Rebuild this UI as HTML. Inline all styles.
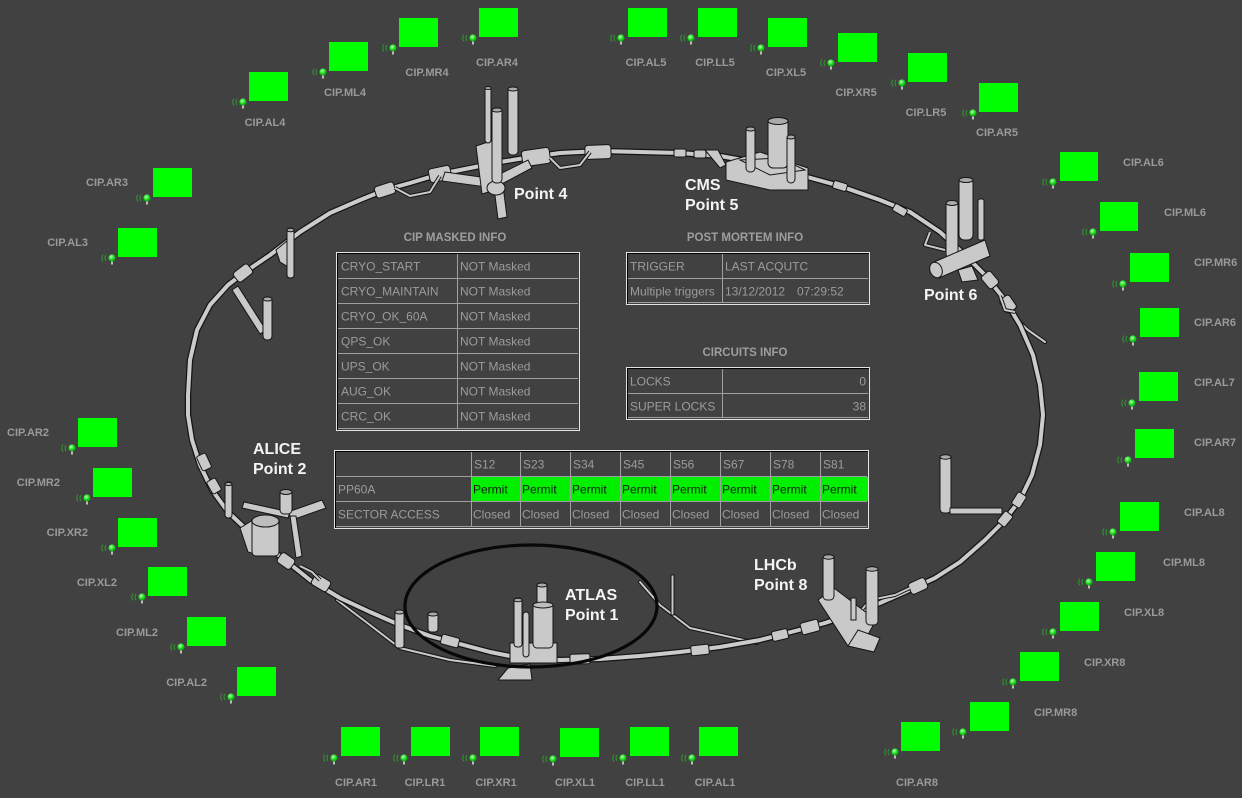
<!DOCTYPE html>
<html><head><meta charset="utf-8"><style>
html,body{margin:0;padding:0;background:#414141;width:1242px;height:798px;overflow:hidden}
svg{display:block;font-family:"Liberation Sans",Arial,sans-serif}
.lb{font-size:11px;font-weight:bold;fill:#9a9a9a}
.tt{font-size:11.5px;font-weight:bold;fill:#9e9e9e}
.tx{font-size:12px;fill:#9c9c9c}
.pm{font-size:12px;fill:#1a1a1a}
.pt{font-size:16px;font-weight:bold;fill:#f4f4f4}
.st{fill:#c9c9c9;stroke:#151515;stroke-width:1}
.gl{stroke:#a0a0a0;stroke-width:1}
</style></head><body>
<svg width="1242" height="798" viewBox="0 0 1242 798" xmlns="http://www.w3.org/2000/svg">
<defs>
<radialGradient id="gb" cx="0.4" cy="0.35" r="0.7"><stop offset="0" stop-color="#b8ffb8"/><stop offset="0.5" stop-color="#22e022"/><stop offset="1" stop-color="#0a8a0a"/></radialGradient>
<g id="ic"><path d="M-6,-3 q-2,3 0,6 M-9,-3.5 q-2.5,3.5 0,7" stroke="#2f9a2f" stroke-width="1" fill="none"/><rect x="-0.8" y="2" width="1.6" height="4.5" fill="#dcdcdc"/><circle r="3.6" fill="url(#gb)"/></g>
</defs>

<!-- secondary lines -->
<g fill="none" stroke-linejoin="round" stroke-linecap="round">
<polyline points="337,600 370,625 400,648 450,660 495,666" stroke="#151515" stroke-width="4"/>
<polyline points="337,600 370,625 400,648 450,660 495,666" stroke="#c9c9c9" stroke-width="2"/>
<polyline points="640,582 660,605 690,628 757,643" stroke="#151515" stroke-width="4"/>
<polyline points="640,582 660,605 690,628 757,643" stroke="#c9c9c9" stroke-width="2"/>
<polyline points="1012,315 1028,330 1045,342" stroke="#151515" stroke-width="4"/>
<polyline points="1012,315 1028,330 1045,342" stroke="#c9c9c9" stroke-width="2"/>
</g>

<!-- ring -->
<g fill="none" stroke-linejoin="round">
<polygon points="188,395 190,360 197,330 210,305 228,285 245,272 270,255 300,232 330,213 360,200 385,190 410,183 440,174 470,168 500,162 525,158 560,153 600,151 640,152 680,153 720,156 760,163 800,175 840,186 880,200 910,212 940,232 965,255 985,275 1005,300 1020,325 1033,355 1040,385 1043,415 1040,445 1032,475 1020,500 1003,522 985,540 960,562 935,578 905,592 880,603 855,613 825,623 795,631 760,640 720,647 680,652 640,656 600,659 560,660 520,658 490,652 460,644 430,636 400,625 370,612 340,598 310,580 285,560 265,545 245,528 228,512 212,490 200,465 192,440 188,415" stroke="#151515" stroke-width="6.5"/>
<polygon points="188,395 190,360 197,330 210,305 228,285 245,272 270,255 300,232 330,213 360,200 385,190 410,183 440,174 470,168 500,162 525,158 560,153 600,151 640,152 680,153 720,156 760,163 800,175 840,186 880,200 910,212 940,232 965,255 985,275 1005,300 1020,325 1033,355 1040,385 1043,415 1040,445 1032,475 1020,500 1003,522 985,540 960,562 935,578 905,592 880,603 855,613 825,623 795,631 760,640 720,647 680,652 640,656 600,659 560,660 520,658 490,652 460,644 430,636 400,625 370,612 340,598 310,580 285,560 265,545 245,528 228,512 212,490 200,465 192,440 188,415" stroke="#cbcbcb" stroke-width="4"/>
</g>

<!-- ring segments -->
<g class="st">
<rect x="-13" y="-7" width="26" height="14" rx="3" transform="translate(598,152) rotate(-2)"/>
<rect x="-14" y="-8" width="28" height="16" rx="3" transform="translate(536,157) rotate(-8)"/>
<rect x="-11" y="-7" width="22" height="14" rx="3" transform="translate(440,174) rotate(-12)"/>
<rect x="-10" y="-6" width="20" height="12" rx="3" transform="translate(385,190) rotate(-18)"/>
<rect x="-9" y="-6" width="18" height="12" rx="3" transform="translate(243,273) rotate(-38)"/>
<rect x="-8" y="-5" width="16" height="10" rx="2" transform="translate(204,462) rotate(65)"/>
<rect x="-7" y="-5" width="14" height="10" rx="2" transform="translate(214,486) rotate(60)"/>
<rect x="-8" y="-6" width="16" height="12" rx="3" transform="translate(286,561) rotate(35)"/>
<rect x="-9" y="-6" width="18" height="12" rx="3" transform="translate(321,583) rotate(31)"/>
<rect x="-9" y="-5" width="18" height="10" rx="2" transform="translate(450,641) rotate(15)"/>
<rect x="-10" y="-5" width="20" height="10" rx="2" transform="translate(580,659) rotate(-2)"/>
<rect x="-9" y="-5" width="18" height="10" rx="2" transform="translate(700,650) rotate(-6)"/>
<rect x="-8" y="-5" width="16" height="10" rx="2" transform="translate(780,635) rotate(-13)"/>
<rect x="-9" y="-6" width="18" height="12" rx="2" transform="translate(810,627) rotate(-15)"/>
<rect x="-9" y="-6" width="18" height="12" rx="3" transform="translate(918,586) rotate(-25)"/>
<rect x="-7" y="-5" width="14" height="10" rx="2" transform="translate(1005,519) rotate(-50)"/>
<rect x="-7" y="-5" width="14" height="10" rx="2" transform="translate(1019,500) rotate(-58)"/>
<rect x="-8" y="-6" width="16" height="12" rx="3" transform="translate(990,280) rotate(50)"/>
<rect x="-8" y="-6" width="16" height="12" rx="3" transform="translate(1008,304) rotate(55)"/>
<rect x="-7" y="-4" width="14" height="8" rx="2" transform="translate(900,210) rotate(30)"/>
<rect x="-7" y="-4" width="14" height="8" rx="2" transform="translate(840,186) rotate(17)"/>
<rect x="-6" y="-4" width="12" height="8" rx="2" transform="translate(680,153)"/>
<rect x="-6" y="-4" width="12" height="8" rx="2" transform="translate(700,154)"/>
</g>
<!-- frames -->
<g fill="none" stroke="#151515" stroke-width="4" stroke-linejoin="round">
<polyline points="395,188 410,196 430,192 440,176"/>
<polyline points="550,158 560,168 580,165 590,152"/>
<polyline points="300,566 312,572 320,580"/>
<polyline points="860,612 870,600 895,595 910,588"/>
<polyline points="930,232 925,245 945,250"/>
<polyline points="1000,296 1005,310 1015,312"/>
</g>
<g fill="none" stroke="#c9c9c9" stroke-width="2" stroke-linejoin="round">
<polyline points="395,188 410,196 430,192 440,176"/>
<polyline points="550,158 560,168 580,165 590,152"/>
<polyline points="300,566 312,572 320,580"/>
<polyline points="860,612 870,600 895,595 910,588"/>
<polyline points="930,232 925,245 945,250"/>
<polyline points="1000,296 1005,310 1015,312"/>
</g>

<!-- Point 3 area -->
<g class="st">
<polygon points="232,290 238,286 266,330 260,334"/>
<rect x="263" y="297" width="9" height="43" rx="4"/><ellipse cx="267.5" cy="299" rx="4.5" ry="2" fill="#aaa"/>
<polygon points="276,250 288,240 290,268 280,262"/>
<rect x="287" y="228" width="7" height="50" rx="3"/><ellipse cx="290.5" cy="230" rx="3.5" ry="1.8" fill="#aaa"/>
</g>

<!-- Point 4 -->
<g class="st">
<polygon points="445,172 488,178 486,187 442,181"/>
<polygon points="492,178 528,160 532,168 496,187"/>
<polygon points="476,146 494,140 502,188 482,194"/>
<polygon points="494,188 503,186 507,217 498,219"/>
<ellipse cx="496" cy="188" rx="9" ry="7"/>
<rect x="485" y="87" width="6" height="56" rx="3"/><ellipse cx="488" cy="88" rx="3" ry="1.5" fill="#aaa"/>
<rect x="508" y="87" width="10" height="68" rx="4"/><ellipse cx="513" cy="89" rx="5" ry="2" fill="#aaa"/>
<rect x="492" y="108" width="10" height="75" rx="4"/><ellipse cx="497" cy="110" rx="5" ry="2" fill="#aaa"/>
</g>

<!-- CMS -->
<g class="st">
<polygon points="726,162 760,152 808,168 808,190 770,190 726,180"/>
<polygon points="740,160 780,158 805,170 770,175"/>
<polygon points="705,150 718,150 726,165 720,168"/>
<rect x="746" y="127" width="9" height="45" rx="4"/><ellipse cx="750.5" cy="129" rx="4.5" ry="2" fill="#aaa"/>
<rect x="768" y="118" width="20" height="50" rx="5"/><ellipse cx="778" cy="121" rx="10" ry="3.5" fill="#aaa"/>
<rect x="787" y="135" width="8" height="48" rx="4"/><ellipse cx="791" cy="137" rx="4" ry="2" fill="#aaa"/>
</g>

<!-- Point 6 -->
<g class="st">
<rect x="946" y="201" width="12" height="57" rx="4"/><ellipse cx="952" cy="203" rx="6" ry="2.5" fill="#aaa"/>
<rect x="959" y="178" width="14" height="62" rx="5"/><ellipse cx="966" cy="180" rx="7" ry="2.5" fill="#aaa"/>
<rect x="978" y="199" width="6" height="41" rx="2"/>
<polygon points="934,262 985,240 990,256 939,278"/>
<ellipse cx="936" cy="270" rx="6" ry="8" transform="rotate(-22 936 270)"/>
<polygon points="958,270 972,266 978,280 962,282"/>
</g>

<!-- ALICE -->
<g class="st">
<polygon points="288,512 322,500 326,508 292,520"/>
<polygon points="244,502 290,512 288,518 242,508"/>
<polygon points="290,516 296,516 302,556 296,558"/>
<polygon points="240,528 256,518 258,555 248,552"/>
<rect x="252" y="518" width="27" height="38" rx="4"/><ellipse cx="265.5" cy="521" rx="13.5" ry="6" fill="#bdbdbd"/>
<rect x="225" y="482" width="7" height="36" rx="3"/><ellipse cx="228.5" cy="484" rx="3.5" ry="1.6" fill="#aaa"/>
<rect x="280" y="490" width="12" height="24" rx="4"/><ellipse cx="286" cy="492" rx="6" ry="2.5" fill="#aaa"/>
</g>

<!-- ATLAS -->
<g class="st">
<polygon points="498,680 508,668 530,664 532,680"/>
<rect x="510" y="643" width="47" height="20"/>
<rect x="395" y="610" width="9" height="38" rx="3"/><ellipse cx="399.5" cy="612" rx="4.5" ry="2" fill="#aaa"/>
<rect x="428" y="612" width="10" height="20" rx="3"/><ellipse cx="433" cy="614" rx="5" ry="2" fill="#aaa"/>
<rect x="537" y="583" width="10" height="22" rx="3"/><ellipse cx="542" cy="585" rx="5" ry="2" fill="#aaa"/>
<rect x="533" y="603" width="20" height="45" rx="4"/><ellipse cx="543" cy="605" rx="10" ry="3" fill="#bdbdbd"/>
<rect x="514" y="598" width="8" height="49" rx="3"/><ellipse cx="518" cy="600" rx="4" ry="1.8" fill="#aaa"/>
<rect x="523" y="612" width="6" height="45" rx="3"/>
<rect x="671" y="575" width="3" height="40"/>
</g>

<!-- LHCb -->
<g class="st">
<polygon points="818,600 834,588 876,620 864,642 848,646"/>
<polygon points="848,646 858,630 880,638 874,652"/>
<rect x="823" y="555" width="11" height="45" rx="4"/><ellipse cx="828.5" cy="557" rx="5.5" ry="2.2" fill="#aaa"/>
<rect x="866" y="567" width="12" height="58" rx="4"/><ellipse cx="872" cy="569" rx="6" ry="2.2" fill="#aaa"/>
<rect x="851" y="598" width="5" height="22"/>
<rect x="940" y="455" width="11" height="58" rx="4"/><ellipse cx="945.5" cy="457" rx="5.5" ry="2.2" fill="#aaa"/>
<rect x="950" y="508" width="52" height="6"/>
</g>

<!-- black ellipse ATLAS -->
<ellipse cx="531" cy="606" rx="126" ry="61" fill="none" stroke="#080808" stroke-width="3.2"/>

<!-- ring labels -->
<text class="pt" x="514" y="199">Point 4</text>
<text class="pt" x="685" y="190">CMS</text>
<text class="pt" x="685" y="210">Point 5</text>
<text class="pt" x="924" y="300">Point 6</text>
<text class="pt" x="253" y="454">ALICE</text>
<text class="pt" x="253" y="474">Point 2</text>
<text class="pt" x="565" y="600">ATLAS</text>
<text class="pt" x="565" y="620">Point 1</text>
<text class="pt" x="754" y="570">LHCb</text>
<text class="pt" x="754" y="590">Point 8</text>

<!-- CIP MASKED INFO -->
<text class="tt" x="455" y="241" text-anchor="middle">CIP MASKED INFO</text>
<rect x="336.5" y="252.5" width="243" height="178" fill="none" stroke="#e4e4e4"/>
<path d="M337,253.5H579M337.5,253V430" stroke="#000"/>
<path class="gl" d="M338,278.5H578M338,303.5H578M338,328.5H578M338,353.5H578M338,378.5H578M338,403.5H578M338,428.5H578M457.5,254V428"/>
<g class="tx">
<text x="341" y="270.5">CRYO_START</text><text x="460" y="270.5">NOT Masked</text>
<text x="341" y="295.5">CRYO_MAINTAIN</text><text x="460" y="295.5">NOT Masked</text>
<text x="341" y="320.5">CRYO_OK_60A</text><text x="460" y="320.5">NOT Masked</text>
<text x="341" y="345.5">QPS_OK</text><text x="460" y="345.5">NOT Masked</text>
<text x="341" y="370.5">UPS_OK</text><text x="460" y="370.5">NOT Masked</text>
<text x="341" y="395.5">AUG_OK</text><text x="460" y="395.5">NOT Masked</text>
<text x="341" y="420.5">CRC_OK</text><text x="460" y="420.5">NOT Masked</text>
</g>

<!-- POST MORTEM INFO -->
<text class="tt" x="745" y="241" text-anchor="middle">POST MORTEM INFO</text>
<rect x="626.5" y="252.5" width="243" height="52" fill="none" stroke="#e4e4e4"/>
<path d="M627,253.5H869M627.5,253V304" stroke="#000"/>
<path class="gl" d="M628,278.5H868M628,302.5H868M722.5,254V302"/>
<g class="tx">
<text x="630" y="270.5">TRIGGER</text><text x="725" y="270.5">LAST ACQUTC</text>
<text x="630" y="295.5">Multiple triggers</text><text x="725" y="295.5">13/12/2012</text><text x="797" y="295.5">07:29:52</text>
</g>

<!-- CIRCUITS INFO -->
<text class="tt" x="745" y="356" text-anchor="middle">CIRCUITS INFO</text>
<rect x="626.5" y="367.5" width="243" height="52" fill="none" stroke="#e4e4e4"/>
<path d="M627,368.5H869M627.5,368V419" stroke="#000"/>
<path class="gl" d="M628,393.5H868M628,417.5H868M722.5,369V417"/>
<g class="tx">
<text x="630" y="385.5">LOCKS</text><text x="866" y="385.5" text-anchor="end">0</text>
<text x="630" y="410.5">SUPER LOCKS</text><text x="866" y="410.5" text-anchor="end">38</text>
</g>

<!-- SECTOR TABLE -->
<rect x="471" y="477" width="397" height="24" fill="#00f000"/>
<rect x="334.5" y="450.5" width="534" height="78" fill="none" stroke="#e4e4e4"/>
<path d="M335,451.5H868M335.5,451V528" stroke="#000"/>
<path class="gl" d="M336,476.5H867M336,501.5H867M336,526.5H867M471.5,452V526M520.5,452V526M570.5,452V526M620.5,452V526M670.5,452V526M720.5,452V526M770.5,452V526M820.5,452V526"/>
<g class="tx">
<text x="474" y="468.5">S12</text><text x="523" y="468.5">S23</text><text x="573" y="468.5">S34</text><text x="623" y="468.5">S45</text><text x="673" y="468.5">S56</text><text x="723" y="468.5">S67</text><text x="773" y="468.5">S78</text><text x="823" y="468.5">S81</text>
<text x="338" y="493.5">PP60A</text>
<text x="338" y="518.5">SECTOR ACCESS</text>
<text x="473" y="518.5">Closed</text><text x="522" y="518.5">Closed</text><text x="572" y="518.5">Closed</text><text x="622" y="518.5">Closed</text><text x="672" y="518.5">Closed</text><text x="722" y="518.5">Closed</text><text x="772" y="518.5">Closed</text><text x="822" y="518.5">Closed</text>
</g>
<g class="pm">
<text x="473" y="493.5">Permit</text><text x="522" y="493.5">Permit</text><text x="572" y="493.5">Permit</text><text x="622" y="493.5">Permit</text><text x="672" y="493.5">Permit</text><text x="722" y="493.5">Permit</text><text x="772" y="493.5">Permit</text><text x="822" y="493.5">Permit</text>
</g>

<!-- green boxes -->
<g fill="#00ff00">
<rect x="249" y="72" width="39" height="29"/><rect x="329" y="42" width="39" height="29"/><rect x="399" y="18" width="39" height="29"/><rect x="479" y="8" width="39" height="29"/>
<rect x="628" y="8" width="39" height="29"/><rect x="698" y="8" width="39" height="29"/><rect x="768" y="18" width="39" height="29"/><rect x="838" y="33" width="39" height="29"/><rect x="908" y="53" width="39" height="29"/><rect x="979" y="83" width="39" height="29"/>
<rect x="1060" y="152" width="38" height="29"/><rect x="1100" y="202" width="38" height="29"/><rect x="1130" y="253" width="39" height="29"/><rect x="1140" y="308" width="39" height="29"/><rect x="1139" y="372" width="39" height="29"/><rect x="1135" y="429" width="39" height="29"/>
<rect x="1120" y="502" width="39" height="29"/><rect x="1096" y="552" width="39" height="29"/><rect x="1060" y="602" width="39" height="29"/><rect x="1020" y="652" width="39" height="29"/><rect x="970" y="702" width="39" height="29"/><rect x="901" y="722" width="39" height="29"/>
<rect x="341" y="727" width="39" height="29"/><rect x="411" y="727" width="39" height="29"/><rect x="480" y="727" width="39" height="29"/><rect x="560" y="728" width="39" height="29"/><rect x="630" y="727" width="39" height="29"/><rect x="699" y="727" width="39" height="29"/>
<rect x="153" y="168" width="39" height="29"/><rect x="118" y="228" width="39" height="29"/><rect x="78" y="418" width="39" height="29"/><rect x="93" y="468" width="39" height="29"/><rect x="118" y="518" width="39" height="29"/><rect x="148" y="567" width="39" height="29"/><rect x="187" y="617" width="39" height="29"/><rect x="237" y="667" width="39" height="29"/>
</g>

<!-- icons -->
<use href="#ic" x="243" y="102"/><use href="#ic" x="323" y="72"/><use href="#ic" x="393" y="48"/><use href="#ic" x="473" y="38"/>
<use href="#ic" x="621" y="38"/><use href="#ic" x="691" y="38"/><use href="#ic" x="761" y="48"/><use href="#ic" x="831" y="63"/><use href="#ic" x="902" y="83"/><use href="#ic" x="973" y="113"/>
<use href="#ic" x="1053" y="182"/><use href="#ic" x="1093" y="232"/><use href="#ic" x="1123" y="284"/><use href="#ic" x="1133" y="339"/><use href="#ic" x="1132" y="403"/><use href="#ic" x="1128" y="460"/>
<use href="#ic" x="1113" y="532"/><use href="#ic" x="1089" y="582"/><use href="#ic" x="1053" y="632"/><use href="#ic" x="1013" y="682"/><use href="#ic" x="963" y="732"/><use href="#ic" x="895" y="752"/>
<use href="#ic" x="334" y="758"/><use href="#ic" x="404" y="758"/><use href="#ic" x="473" y="758"/><use href="#ic" x="553" y="759"/><use href="#ic" x="623" y="758"/><use href="#ic" x="692" y="758"/>
<use href="#ic" x="147" y="198"/><use href="#ic" x="112" y="258"/><use href="#ic" x="72" y="448"/><use href="#ic" x="87" y="498"/><use href="#ic" x="112" y="548"/><use href="#ic" x="142" y="597"/><use href="#ic" x="181" y="647"/><use href="#ic" x="231" y="697"/>

<!-- labels -->
<g class="lb" text-anchor="middle">
<text x="265" y="126">CIP.AL4</text><text x="345" y="96">CIP.ML4</text><text x="427" y="76">CIP.MR4</text><text x="497" y="66">CIP.AR4</text>
<text x="646" y="66">CIP.AL5</text><text x="715" y="66">CIP.LL5</text><text x="786" y="76">CIP.XL5</text><text x="856" y="96">CIP.XR5</text><text x="926" y="116">CIP.LR5</text><text x="997" y="136">CIP.AR5</text>
<text x="917" y="786">CIP.AR8</text>
<text x="356" y="786">CIP.AR1</text><text x="425" y="786">CIP.LR1</text><text x="496" y="786">CIP.XR1</text><text x="575" y="786">CIP.XL1</text><text x="645" y="786">CIP.LL1</text><text x="715" y="786">CIP.AL1</text>
</g>
<g class="lb">
<text x="1123" y="166">CIP.AL6</text><text x="1164" y="216">CIP.ML6</text><text x="1194" y="266">CIP.MR6</text><text x="1194" y="326">CIP.AR6</text><text x="1194" y="386">CIP.AL7</text><text x="1194" y="446">CIP.AR7</text>
<text x="1184" y="516">CIP.AL8</text><text x="1163" y="566">CIP.ML8</text><text x="1124" y="616">CIP.XL8</text><text x="1084" y="666">CIP.XR8</text><text x="1034" y="716">CIP.MR8</text>
</g>
<g class="lb" text-anchor="end">
<text x="128" y="186">CIP.AR3</text><text x="88" y="246">CIP.AL3</text><text x="49" y="436">CIP.AR2</text><text x="60" y="486">CIP.MR2</text><text x="88" y="536">CIP.XR2</text><text x="117" y="586">CIP.XL2</text><text x="158" y="636">CIP.ML2</text><text x="207" y="686">CIP.AL2</text>
</g>
</svg>
</body></html>
